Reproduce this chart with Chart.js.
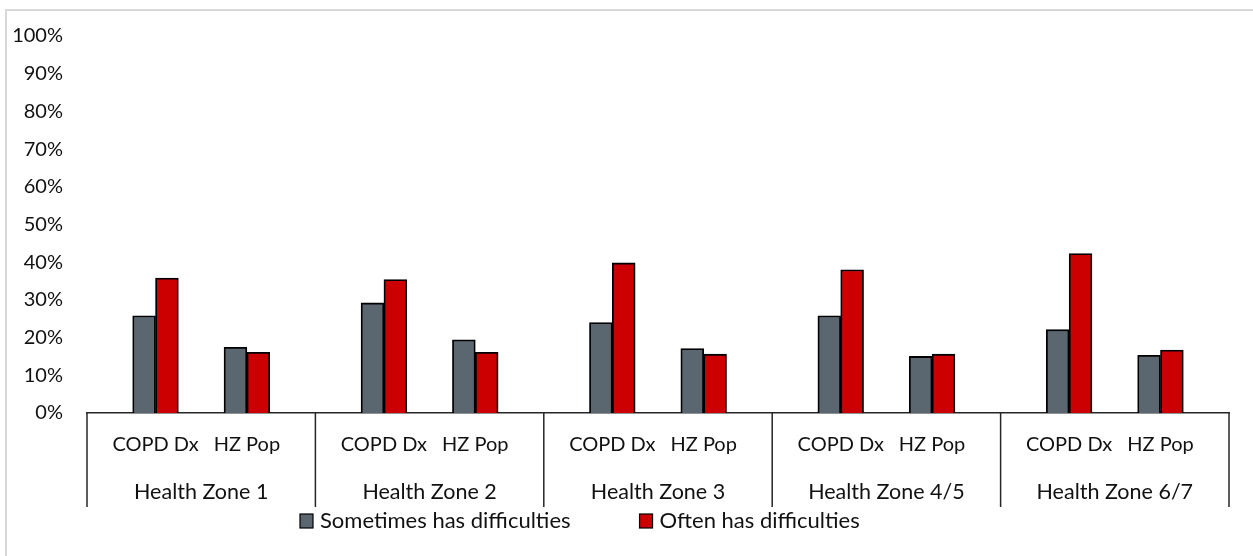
<!DOCTYPE html>
<html>
<head>
<meta charset="utf-8">
<script src="https://cdn.jsdelivr.net/npm/chart.js@4.4.0/dist/chart.umd.min.js"></script>
<style>
  html, body { margin: 0; padding: 0; background: #fff; }
  #wrap { position: relative; width: 1253px; height: 556px; overflow: hidden; }
  #frame { position: absolute; left: 5px; top: 9px; width: 1300px; height: 600px; border-left: 2px solid #d9d9d9; border-top: 2px solid #d9d9d9; }
  #grafico { position: absolute; left: 0; top: 0; }
</style>
</head>
<body>
<div id="wrap">
  <div id="frame"></div>
  <canvas id="grafico" width="1253" height="556"></canvas>
</div>
<script>
var zonas = ['Health Zone 1', 'Health Zone 2', 'Health Zone 3', 'Health Zone 4/5', 'Health Zone 6/7'];
var grupos = ['COPD Dx', 'HZ Pop'];
// values in %, order: zone1 COPD, zone1 HZ, zone2 COPD, ...
var sometimes = [25.8, 17.4, 29.2, 19.4, 24.0, 17.1, 25.8, 15.0, 22.1, 15.3];
var often = [35.8, 16.1, 35.4, 16.1, 39.8, 15.6, 38.0, 15.6, 42.3, 16.7];
var yTicks = [0, 10, 20, 30, 40, 50, 60, 70, 80, 90, 100];

var nomes = ['Sometimes has difficulties', 'Often has difficulties'];
var cores = ['#5B6770', '#CC0000'];

var fonte = 'Lato, "Open Sans", sans-serif';
var corTexto = '#111';

// each zone gets 5 slots: blank, COPD Dx, blank, HZ Pop, blank
var slots = [];
var d1 = [];
var d2 = [];
zonas.forEach(function(z, i) {
  slots.push('', grupos[0], '', grupos[1], '');
  d1.push(null, sometimes[i * 2], null, sometimes[i * 2 + 1], null);
  d2.push(null, often[i * 2], null, often[i * 2 + 1], null);
});

var rotulosX = {
  id: 'rotulosX',
  afterDraw: function(chart) {
    var ctx = chart.ctx;
    var x = chart.scales.x;
    var passo = x.getPixelForValue(1) - x.getPixelForValue(0);
    var y0 = chart.chartArea.bottom;

    ctx.save();
    // separators between zones
    ctx.strokeStyle = '#262626';
    ctx.lineWidth = 1.5;
    for (var g = 0; g <= zonas.length; g++) {
      var xs = x.getPixelForValue(g * 5) - passo / 2;
      ctx.beginPath();
      ctx.moveTo(xs, y0);
      ctx.lineTo(xs, y0 + 94);
      ctx.stroke();
    }

    ctx.fillStyle = corTexto;
    ctx.textAlign = 'center';
    ctx.textBaseline = 'middle';
    zonas.forEach(function(z, i) {
      ctx.font = '20px ' + fonte;
      ctx.fillText(grupos[0], x.getPixelForValue(i * 5 + 1), y0 + 32);
      ctx.fillText(grupos[1], x.getPixelForValue(i * 5 + 3), y0 + 32);
      ctx.font = '21.5px ' + fonte;
      ctx.fillText(z, x.getPixelForValue(i * 5 + 2), y0 + 79);
    });

    // legend
    var lx = 300;
    var ly = y0 + 108;
    ctx.textAlign = 'left';
    ctx.font = '22px ' + fonte;
    nomes.forEach(function(n, i) {
      ctx.fillStyle = cores[i];
      ctx.fillRect(lx, ly - 7, 13, 14);
      ctx.strokeStyle = '#000';
      ctx.lineWidth = 1.2;
      ctx.strokeRect(lx, ly - 7, 13, 14);
      ctx.fillStyle = corTexto;
      ctx.fillText(n, lx + 20, ly);
      lx = lx + 20 + ctx.measureText(n).width + 69;
    });
    ctx.restore();
  }
};

var ctx = document.getElementById('grafico').getContext('2d');
var myChart = new Chart(ctx, {
  type: 'bar',
  data: {
    labels: slots,
    datasets: [
      { label: nomes[0], data: d1, backgroundColor: cores[0], borderColor: '#000', borderWidth: 1.8 },
      { label: nomes[1], data: d2, backgroundColor: cores[1], borderColor: '#000', borderWidth: 1.8 }
    ]
  },
  options: {
    responsive: false,
    animation: false,
    layout: { padding: { top: 25, right: 24, left: 0, bottom: 0 } },
    datasets: { bar: { categoryPercentage: 1, barPercentage: 1, skipNull: true } },
    plugins: {
      legend: { display: false },
      tooltip: { enabled: false }
    },
    scales: {
      x: {
        grid: { display: false, drawTicks: false },
        border: { display: true, color: '#262626', width: 1.5 },
        ticks: { display: false },
        afterFit: function(scale) { scale.height = 143; }
      },
      y: {
        min: 0,
        max: 100,
        afterBuildTicks: function(scale) {
          scale.ticks = yTicks.map(function(v) { return { value: v }; });
        },
        grid: { display: false, drawTicks: false },
        border: { display: false },
        ticks: {
          padding: 24,
          color: corTexto,
          font: { family: fonte, size: 20 },
          callback: function(v) { return v + '%'; }
        },
        afterFit: function(scale) { scale.width = 87; }
      }
    }
  },
  plugins: [rotulosX]
});
</script>
</body>
</html>
